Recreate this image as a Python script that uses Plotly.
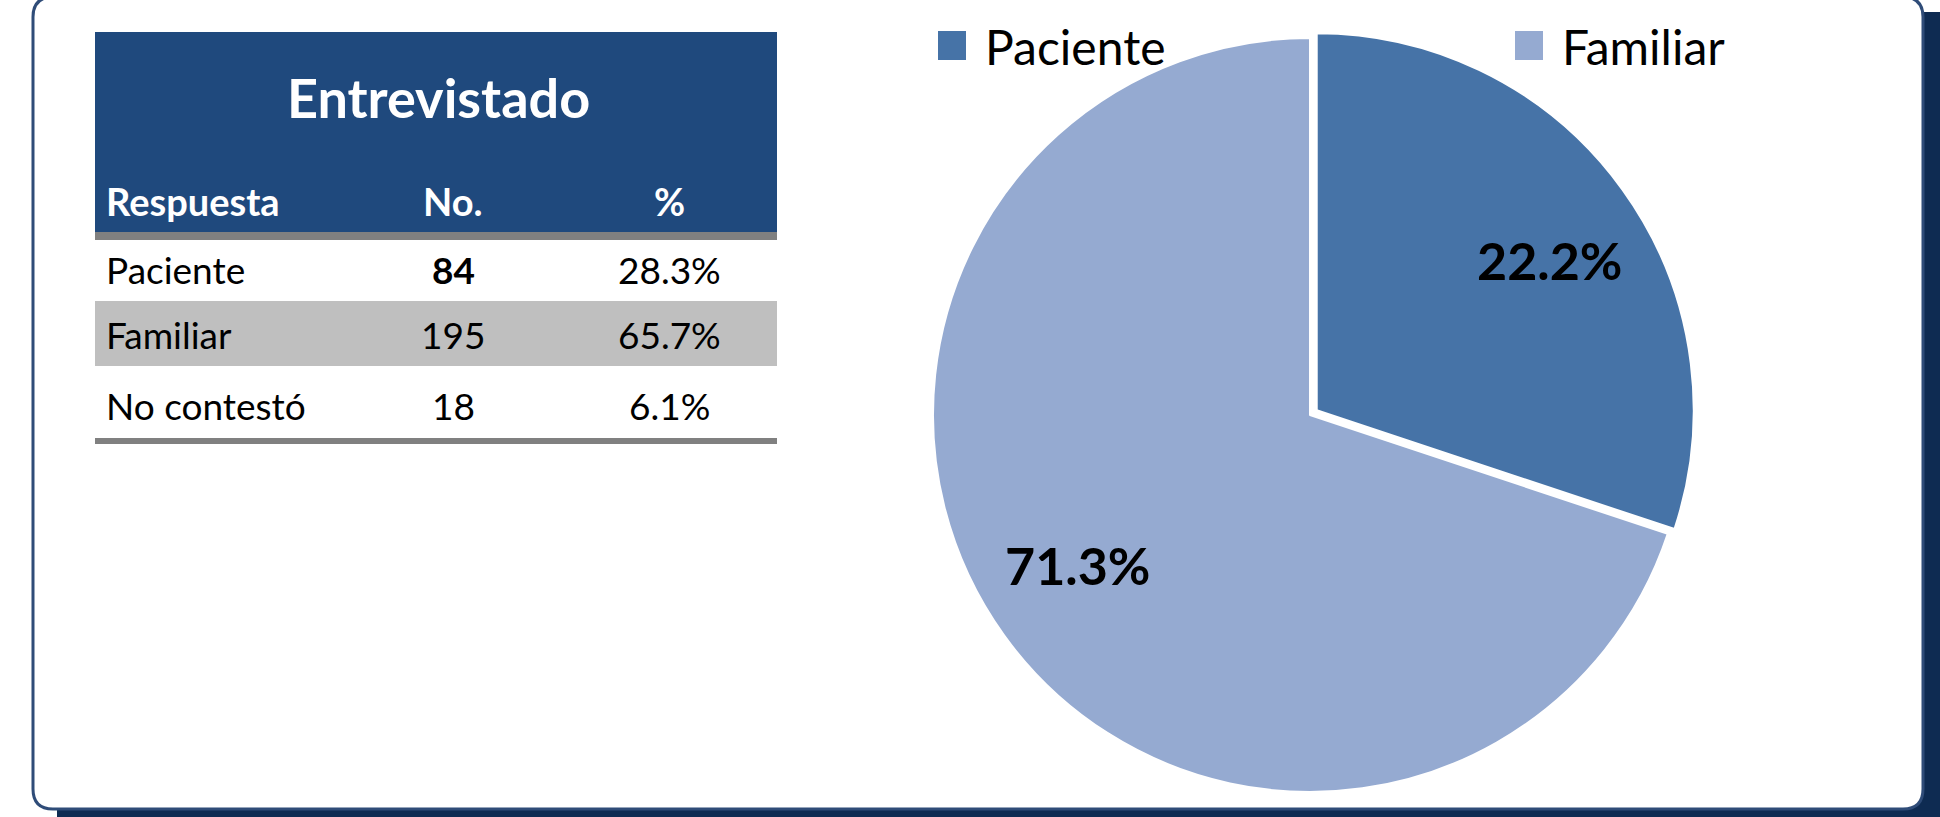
import math
import plotly.graph_objects as go

W, H = 1940, 817

# ---------------- data ----------------
categorias = ["Paciente", "Familiar"]
entrevistados = [84, 195]                 # slice sizes
etiquetas_pie = ["22.2%", "71.3%"]        # labels printed on the slices
colores = ["#4673A7", "#95AAD1"]

tabla_titulo = "Entrevistado"
tabla_columnas = ["Respuesta", "No.", "%"]
tabla_respuestas = ["Paciente", "Familiar", "No contestó"]
tabla_numeros = ["84", "195", "18"]
tabla_porcentajes = ["28.3%", "65.7%", "6.1%"]
tabla_negrita = [[False, True, False], [False, False, False], [False, False, False]]

FONT = "Lato"


def px(x):
    return x / W


def py(y):
    return 1 - y / H


def rrect(x0, y0, x1, y1, r):
    pts = [
        ("M", [(x0 + r, y0)]),
        ("L", [(x1 - r, y0)]),
        ("Q", [(x1, y0), (x1, y0 + r)]),
        ("L", [(x1, y1 - r)]),
        ("Q", [(x1, y1), (x1 - r, y1)]),
        ("L", [(x0 + r, y1)]),
        ("Q", [(x0, y1), (x0, y1 - r)]),
        ("L", [(x0, y0 + r)]),
        ("Q", [(x0, y0), (x0 + r, y0)]),
    ]
    s = ""
    for cmd, p in pts:
        s += cmd + " " + " ".join(f"{px(a):.6f},{py(b):.6f}" for a, b in p) + " "
    return s + "Z"


shapes = []
annotations = []

# card shadow and card
shapes.append(dict(type="path", xref="paper", yref="paper", path=rrect(57, 12, 1960, 840, 20),
                   fillcolor="#0E2B52", line=dict(width=0), layer="below"))
shapes.append(dict(type="path", xref="paper", yref="paper", path=rrect(33, -3, 1923, 809, 20),
                   fillcolor="white", line=dict(color="#2F4C78", width=3), layer="below"))

# ---------------- table ----------------
TX0, TX1 = 95, 777
shapes.append(dict(type="rect", xref="paper", yref="paper", x0=px(TX0), x1=px(TX1), y0=py(32), y1=py(232),
                   fillcolor="#1F497D", line=dict(width=0)))
shapes.append(dict(type="rect", xref="paper", yref="paper", x0=px(TX0), x1=px(TX1), y0=py(232), y1=py(240),
                   fillcolor="#808080", line=dict(width=0)))
row_top = [240, 301, 366]
row_bot = [301, 366, 438]
row_fill = ["white", "#BFBFBF", "white"]
for t, b, f in zip(row_top, row_bot, row_fill):
    shapes.append(dict(type="rect", xref="paper", yref="paper", x0=px(TX0), x1=px(TX1), y0=py(t), y1=py(b),
                       fillcolor=f, line=dict(width=0)))
shapes.append(dict(type="rect", xref="paper", yref="paper", x0=px(TX0), x1=px(TX1), y0=py(438), y1=py(444),
                   fillcolor="#808080", line=dict(width=0)))

col_x = [104, 453, 669]
col_anchor = ["left", "center", "center"]

annotations.append(dict(x=px(438), y=py(98), xref="paper", yref="paper", text=f"<b>{tabla_titulo}</b>",
                        showarrow=False, xanchor="center", yanchor="middle",
                        font=dict(family=FONT, size=54, color="white")))
for c, txt in enumerate(tabla_columnas):
    annotations.append(dict(x=px(col_x[c]), y=py(201), xref="paper", yref="paper", text=f"<b>{txt}</b>",
                            showarrow=False, xanchor=col_anchor[c], yanchor="middle",
                            font=dict(family=FONT, size=38, color="white")))

row_cy = [270, 334, 405]
for r in range(len(tabla_respuestas)):
    vals = [tabla_respuestas[r], tabla_numeros[r], tabla_porcentajes[r]]
    for c, v in enumerate(vals):
        t = f"<b>{v}</b>" if tabla_negrita[r][c] else v
        annotations.append(dict(x=px(col_x[c]), y=py(row_cy[r]), xref="paper", yref="paper", text=t,
                                showarrow=False, xanchor=col_anchor[c], yanchor="middle",
                                font=dict(family=FONT, size=37, color="black")))

# ---------------- pie ----------------
CX, CY, R = 1310, 415, 377
PULL = 0.022
pulls = [PULL, 0]
half = R * (1 + PULL)
dom_x = [px(CX - 420), px(CX + 420)]
dom_y = [1 - (CY + half) / H, 1 - (CY - half) / H]

fig = go.Figure()
fig.add_trace(go.Pie(
    labels=categorias, values=entrevistados, sort=False, direction="clockwise", rotation=0,
    pull=pulls, marker=dict(colors=colores, line=dict(color="white", width=2)),
    textinfo="none", showlegend=False, domain=dict(x=dom_x, y=dom_y),
    hovertemplate="%{label}: %{value}<extra></extra>",
))

# slice labels placed along each slice (from the slice angles)
tot = sum(entrevistados)
cum = 0
for i, v in enumerate(entrevistados):
    mid = (cum + v / 2) / tot * 2 * math.pi
    cum += v
    ox = CX + pulls[i] * R * math.sin(mid)
    oy = CY - pulls[i] * R * math.cos(mid)
    ang = mid + math.radians(3)
    rr = 0.735 * R
    lx = ox + rr * math.sin(ang)
    ly = oy - rr * math.cos(ang)
    annotations.append(dict(x=px(lx), y=py(ly), xref="paper", yref="paper", text=f"<b>{etiquetas_pie[i]}</b>",
                            showarrow=False, xanchor="center", yanchor="middle",
                            font=dict(family=FONT, size=52, color="black")))

# legend (drawn manually to get large square swatches)
leg_x = [938, 1515]
for i, name in enumerate(categorias):
    shapes.append(dict(type="rect", xref="paper", yref="paper", x0=px(leg_x[i]), x1=px(leg_x[i] + 28),
                       y0=py(31), y1=py(60), fillcolor=colores[i], line=dict(width=0)))
    annotations.append(dict(x=px(leg_x[i] + 45), y=py(47), xref="paper", yref="paper", text=name,
                            showarrow=False, xanchor="left", yanchor="middle",
                            font=dict(family=FONT, size=48, color="black")))

fig.update_layout(
    width=W, height=H, margin=dict(l=0, r=0, t=0, b=0),
    paper_bgcolor="white", plot_bgcolor="white",
    shapes=shapes, annotations=annotations,
    font=dict(family=FONT),
)

fig.write_html("out.html", config={"displayModeBar": False},
               post_script="document.body.style.margin='0';document.body.style.overflow='hidden';")
